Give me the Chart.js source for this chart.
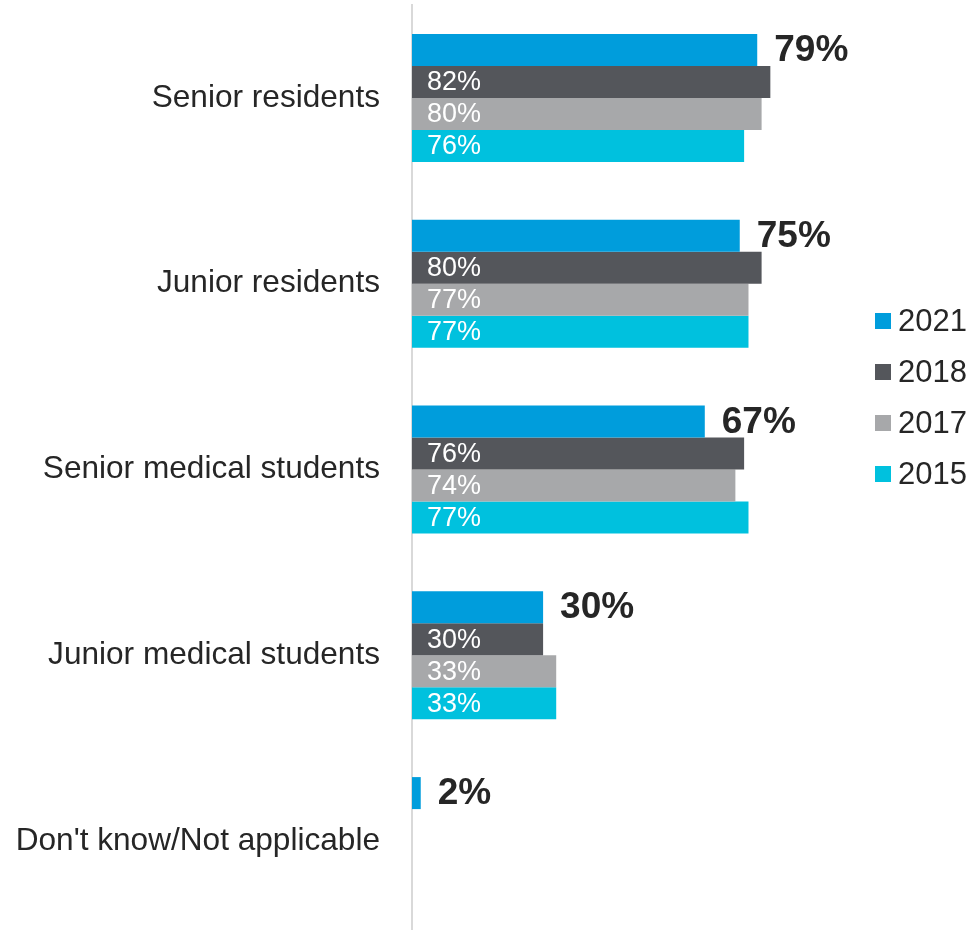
<!DOCTYPE html>
<html>
<head>
<meta charset="utf-8">
<script src="https://cdn.jsdelivr.net/npm/chart.js@4/dist/chart.umd.min.js"></script>
<style>
  html, body { margin: 0; padding: 0; background: #ffffff; overflow: hidden; }
  #wrap { position: relative; width: 973px; height: 934px; }
</style>
</head>
<body>
<div id="wrap"><canvas id="chart"></canvas></div>
<script>
// Categories and yearly shares (%)
const categories = [
  'Senior residents',
  'Junior residents',
  'Senior medical students',
  'Junior medical students',
  "Don't know/Not applicable"
];
const years = ['2021', '2018', '2017', '2015'];
const values2021 = [79, 75, 67, 30, 2];
const values2018 = [82, 80, 76, 30, null];
const values2017 = [80, 77, 74, 33, null];
const values2015 = [76, 77, 77, 33, null];
const colors = ['#009ddc', '#54565b', '#a7a8aa', '#00c1de'];

const FONT = '"Liberation Sans", Arial, Helvetica, sans-serif';
const TEXT = '#262626';

const series = [values2021, values2018, values2017, values2015];

// Value labels: bold outside for the latest year, white inside for earlier years
const valueLabels = {
  id: 'valueLabels',
  afterDatasetsDraw(chart) {
    const ctx = chart.ctx;
    ctx.save();
    ctx.textBaseline = 'middle';
    chart.data.datasets.forEach((ds, di) => {
      const meta = chart.getDatasetMeta(di);
      meta.data.forEach((bar, i) => {
        const v = ds.data[i];
        if (v === null || v === undefined) return;
        const txt = v + '%';
        if (di === 0) {
          ctx.font = 'bold 37px ' + FONT;
          ctx.fillStyle = TEXT;
          ctx.textAlign = 'left';
          ctx.fillText(txt, bar.x + 17, bar.y + 1);
        } else {
          ctx.font = '27px ' + FONT;
          ctx.fillStyle = '#ffffff';
          ctx.textAlign = 'left';
          ctx.fillText(txt, bar.base + 15, bar.y + 1);
        }
      });
    });
    ctx.restore();
  }
};

// Legend column on the right
const sideLegend = {
  id: 'sideLegend',
  afterDraw(chart) {
    const ctx = chart.ctx;
    ctx.save();
    ctx.font = '31px ' + FONT;
    ctx.textBaseline = 'middle';
    ctx.textAlign = 'left';
    chart.data.datasets.forEach((ds, i) => {
      const cy = 321 + i * 51;
      ctx.fillStyle = ds.backgroundColor;
      ctx.fillRect(875, cy - 8, 16, 16);
      ctx.fillStyle = TEXT;
      ctx.fillText(ds.label, 898, cy + 1);
    });
    ctx.restore();
  }
};

new Chart(document.getElementById('chart'), {
  type: 'bar',
  data: {
    labels: categories,
    datasets: years.map((y, i) => ({
      label: y,
      data: series[i],
      backgroundColor: colors[i],
      borderWidth: 0,
      categoryPercentage: 0.689,
      barPercentage: 1.0
    }))
  },
  options: {
    indexAxis: 'y',
    responsive: true,
    maintainAspectRatio: false,
    animation: false,
    layout: { padding: { top: 5, right: 124, bottom: 0, left: 0 } },
    plugins: {
      legend: { display: false },
      tooltip: { enabled: false }
    },
    scales: {
      x: {
        display: false,
        min: 0,
        max: 100
      },
      y: {
        grid: { display: false, drawTicks: false },
        border: { display: true, color: '#d9d9d9', width: 2 },
        ticks: {
          color: TEXT,
          font: { family: FONT, size: 31.6 },
          padding: 32
        },
        afterFit(scale) {
          scale.width = 412;
          scale.paddingTop = 0;
          scale.paddingBottom = 0;
        }
      }
    }
  },
  plugins: [valueLabels, sideLegend]
});
</script>
</body>
</html>
